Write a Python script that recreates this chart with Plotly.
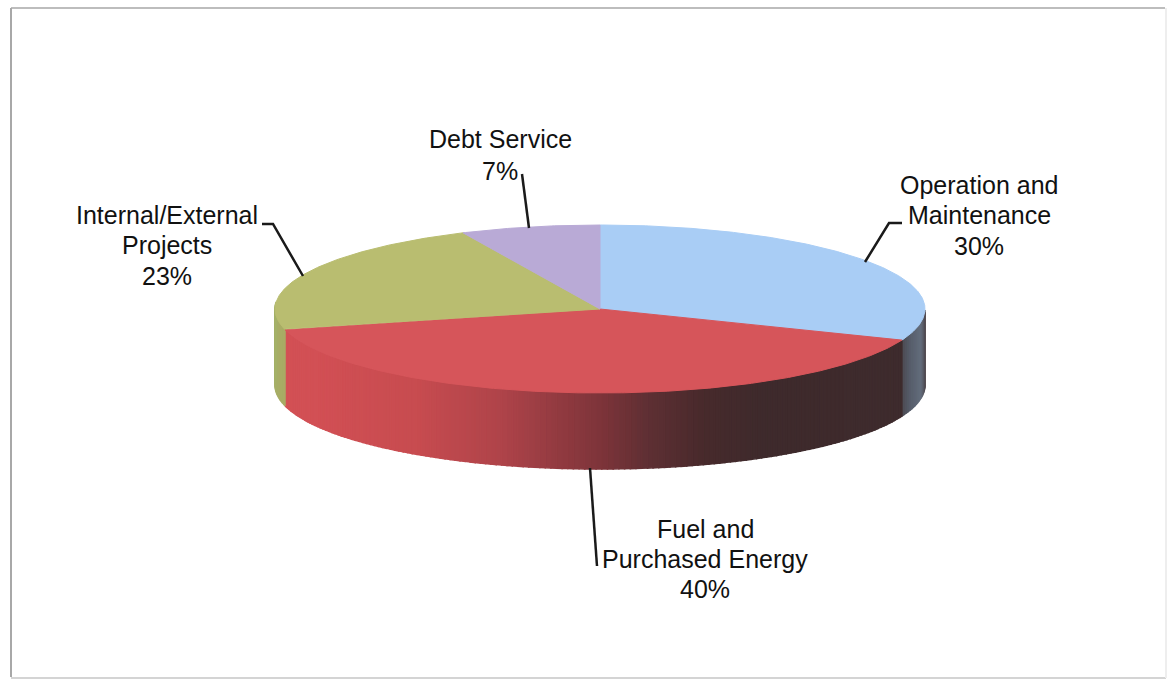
import math
import plotly.graph_objects as go

# Data
categories = ["Operation and Maintenance", "Fuel and Purchased Energy", "Internal/External Projects", "Debt Service"]
values = [30, 40, 23, 7]
label_lines = [["Operation and", "Maintenance", "30%"],
               ["Fuel and", "Purchased Energy", "40%"],
               ["Internal/External", "Projects", "23%"],
               ["Debt Service", "7%"]]

# Style and layout (pixel space of the 1171x679 page)
W, H = 1171, 679
CX, CY, RX, RY, DEPTH = 600, 309, 325, 84, 76
WARP = 5.7
top_colors = ["#a9cdf5", "#d6555a", "#b9bd70", "#b9aad6"]
side_stops = {
    0: [(90, (72, 64, 70)), (97, (100, 110, 125)), (104, (88, 95, 108)), (112, (66, 58, 62))],
    1: [(108, (62, 44, 46)), (145, (62, 42, 44)), (156, (72, 42, 44)), (166, (95, 48, 52)), (174, (125, 52, 58)),
        (192, (175, 68, 74)), (209, (200, 76, 80)), (235, (210, 80, 85)), (262, (212, 82, 86))],
    2: [(250, (170, 170, 100)), (272, (165, 178, 105))],
    3: [(0, (150, 140, 170)), (1, (150, 140, 170))],
}
label_pos = [[(979, 185), (979, 215), (979, 246)],
             [(705, 529), (705, 559), (705, 589)],
             [(167, 215), (167, 245), (167, 276)],
             [(500, 139), (500, 171)]]
leaders = [[(865, 262), (889, 223), (902, 223)],
           [(590, 468), (597, 566)],
           [(262, 224), (273, 224), (303, 276)],
           [(522, 174), (529, 228)]]


def warp(theta):
    return theta + WARP * (1 - math.cos(math.radians(theta))) / 2


def pt(theta, dy=0):
    t = math.radians(warp(theta))
    return CX + RX * math.sin(t), CY - RY * math.cos(t) + dy


def side_color(i, theta):
    stops = side_stops[i]
    if theta <= stops[0][0]:
        return stops[0][1]
    for (a0, c0), (a1, c1) in zip(stops, stops[1:]):
        if theta <= a1:
            f = (theta - a0) / (a1 - a0)
            return tuple(c0[k] + f * (c1[k] - c0[k]) for k in range(3))
    return stops[-1][1]


fig = go.Figure()

# slice angles from the values
total = sum(values)
edges = [0]
for v in values:
    edges.append(edges[-1] + v / total * 360)

# visible side wall, strip by strip
STEP = 1
for i in range(len(values)):
    a, b = edges[i], edges[i + 1]
    lo = max(a, 88)
    hi = min(b, 272)
    t = lo
    while t < hi:
        u = min(t + STEP, hi)
        p = [pt(t), pt(u), pt(u, DEPTH), pt(t, DEPTH), pt(t)]
        c = side_color(i, (t + u) / 2)
        col = "rgb(%d,%d,%d)" % tuple(c)
        fig.add_trace(go.Scatter(x=[q[0] for q in p], y=[q[1] for q in p], mode="lines", fill="toself",
                                 fillcolor=col, line=dict(color=col, width=1.5), hoverinfo="skip"))
        t = u

# top faces
for i, cat in enumerate(categories):
    a, b = edges[i], edges[i + 1]
    n = max(2, int((b - a) * 2))
    pts = [(CX, CY)] + [pt(a + (b - a) * k / n) for k in range(n + 1)] + [(CX, CY)]
    fig.add_trace(go.Scatter(x=[q[0] for q in pts], y=[q[1] for q in pts], mode="lines", fill="toself",
                             fillcolor=top_colors[i], line=dict(color=top_colors[i], width=1),
                             name=cat, hoverinfo="name"))

# leader lines
for seg in leaders:
    fig.add_trace(go.Scatter(x=[q[0] for q in seg], y=[q[1] for q in seg], mode="lines",
                             line=dict(color="#1a1a1a", width=2.5), hoverinfo="skip"))

# labels
annotations = []
for lines, poss in zip(label_lines, label_pos):
    for txt, (x, y) in zip(lines, poss):
        annotations.append(dict(x=x, y=y, xref="x", yref="y", text=txt, showarrow=False,
                                xanchor="center", yanchor="middle",
                                font=dict(family="Liberation Sans", size=25, color="#111111")))

# frame
frame = [((11, 8), (1165, 8), "#bdbdbd", 2), ((11, 8), (11, 677), "#a8a8a8", 2),
         ((11, 678), (1166, 678), "#d4d4d4", 2), ((1166, 8), (1166, 678), "#eeeeee", 2)]
shapes = [dict(type="line", x0=a[0], y0=a[1], x1=b[0], y1=b[1], xref="x", yref="y",
               line=dict(color=c, width=w), layer="below") for a, b, c, w in frame]

fig.update_layout(width=W, height=H, margin=dict(l=0, r=0, t=0, b=0), showlegend=False,
                  paper_bgcolor="white", plot_bgcolor="white", annotations=annotations, shapes=shapes,
                  xaxis=dict(range=[0, W], visible=False, fixedrange=True),
                  yaxis=dict(range=[H, 0], visible=False, fixedrange=True))
fig.write_html("out.html", config=dict(displayModeBar=False),
               post_script="document.body.style.margin='0';document.body.style.overflow='hidden';")
